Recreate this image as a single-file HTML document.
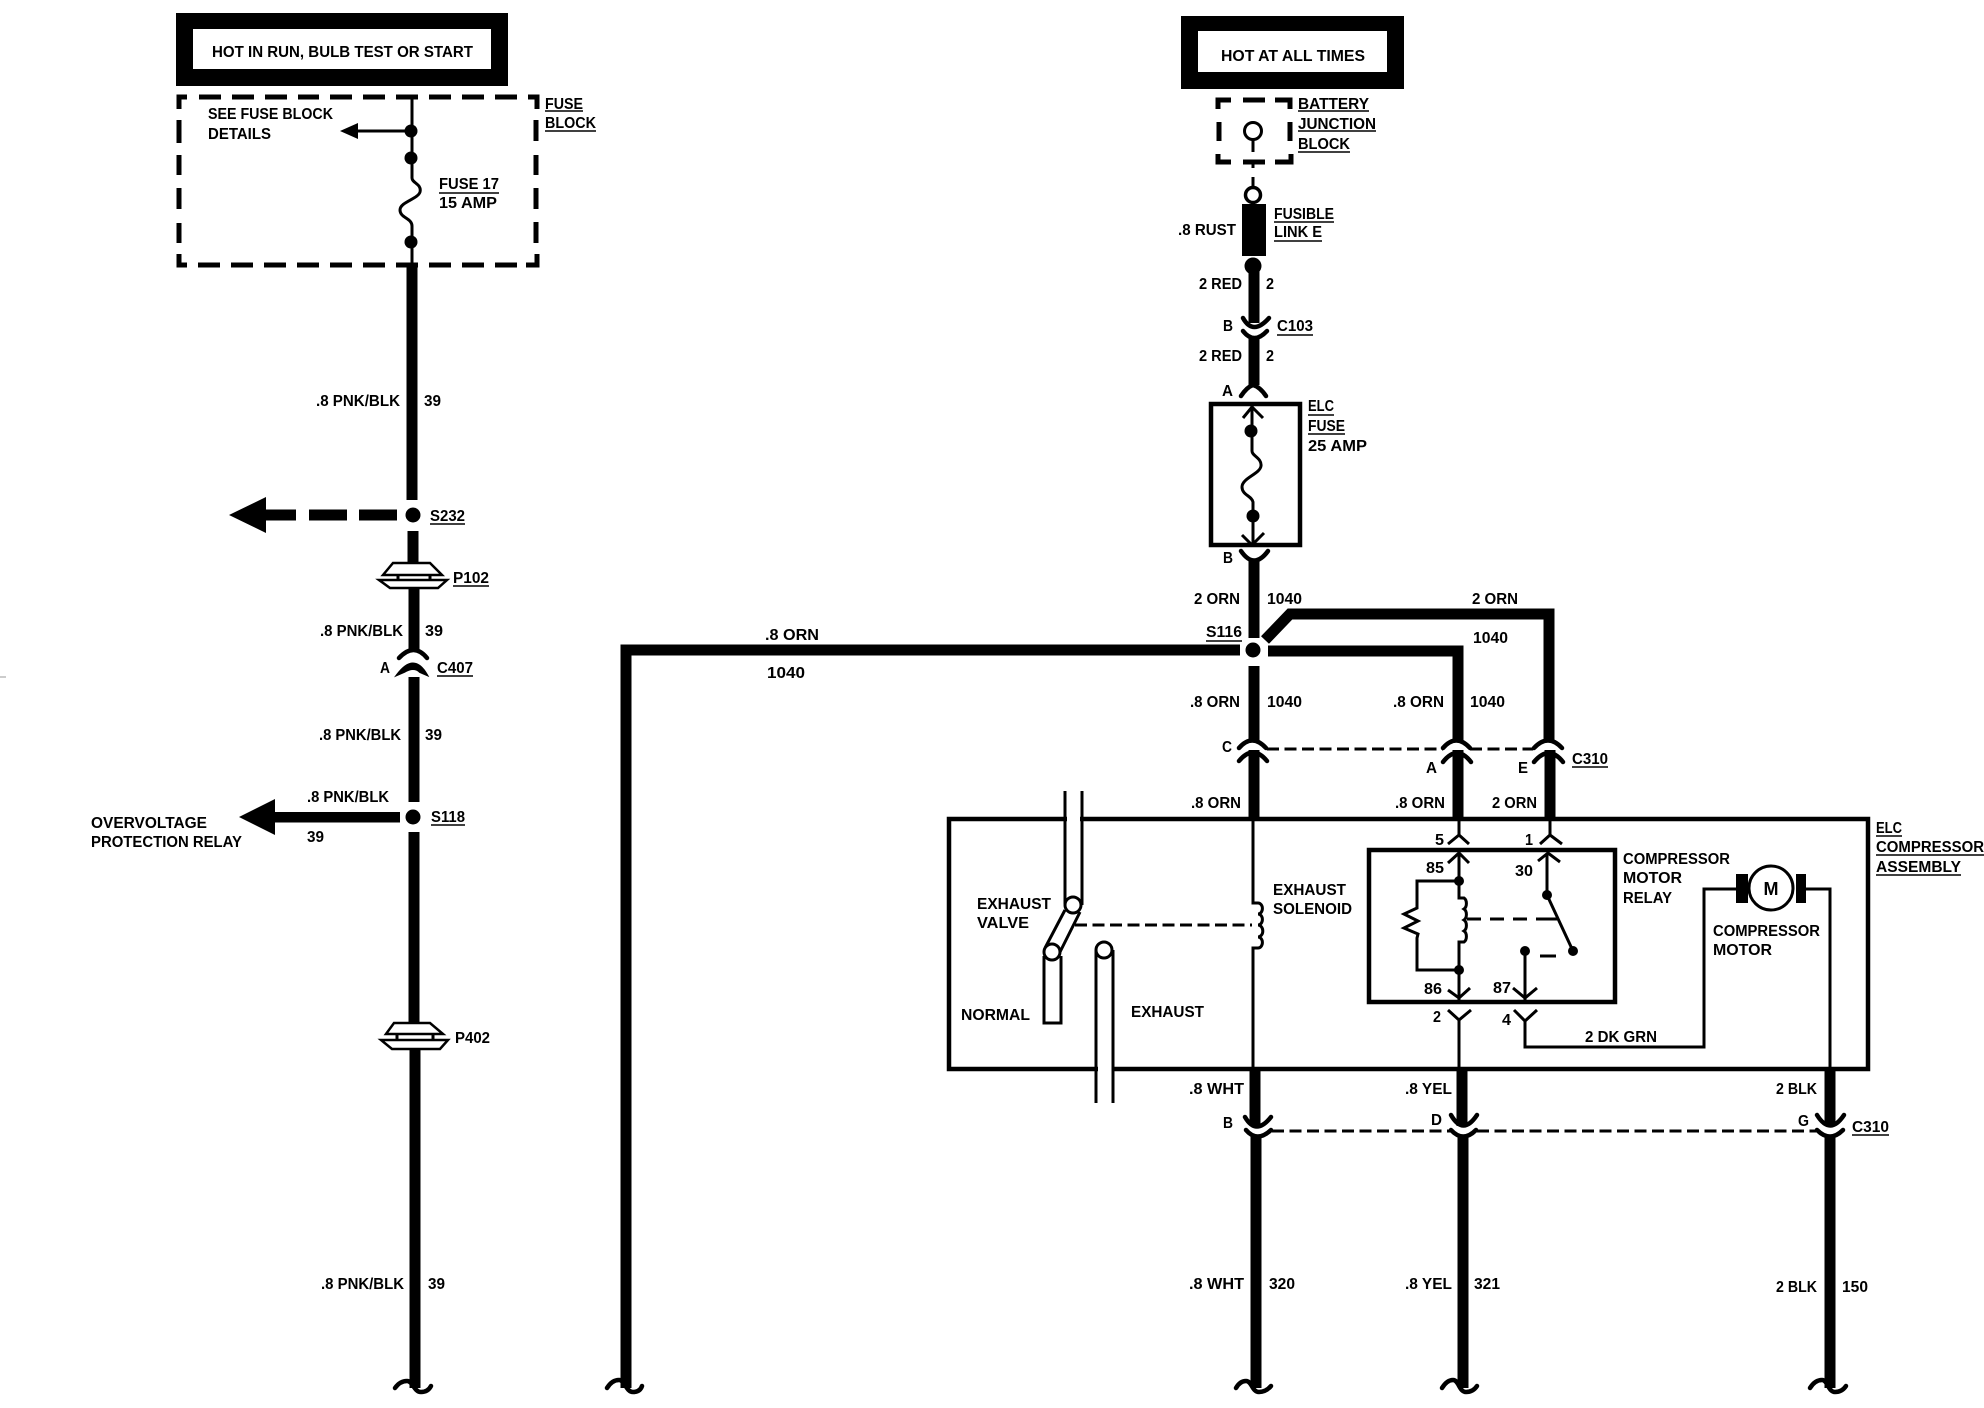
<!DOCTYPE html>
<html><head><meta charset="utf-8"><title>Wiring diagram</title>
<style>
html,body{margin:0;padding:0;background:#fff;width:1984px;height:1408px;overflow:hidden}
svg{display:block}
text{font-family:"Liberation Sans",sans-serif;font-weight:bold;font-size:15.5px;fill:#000}
.w{fill:none;stroke:#000;stroke-width:11}
.t{fill:none;stroke:#000;stroke-width:3}
.c{fill:none;stroke:#000;stroke-width:4.5;stroke-linecap:round}
.u{fill:none;stroke:#000;stroke-width:1.6}
.d{fill:none;stroke:#000;stroke-width:3;stroke-dasharray:12 5.5}
.b{fill:none;stroke:#000;stroke-width:5}
</style></head><body>
<svg width="1984" height="1408" viewBox="0 0 1984 1408" xmlns="http://www.w3.org/2000/svg">
<rect width="1984" height="1408" fill="#fff"/>
<path d="M0 677H6" stroke="#999" stroke-width="1"/>

<!-- LEFT HEADER -->
<rect x="176" y="13" width="332" height="73" fill="#000"/>
<rect x="193" y="29" width="298" height="40" fill="#fff"/>
<text x="212" y="57" textLength="261" lengthAdjust="spacingAndGlyphs">HOT IN RUN, BULB TEST OR START</text>

<!-- FUSE BLOCK dashed box -->
<path class="b" d="M179 109V97H187M199 97H221M232 97H254M265 97H287M298 97H319M330 97H352M363 97H385M396 97H418M429 97H451M462 97H484M495 97H517M528 97H537V109M179 120V143M179 155V175M179 188V209M179 223V243M179 254V265H187M198 265H220M231 265H253M264 265H286M297 265H319M330 265H352M363 265H385M396 265H418M429 265H451M462 265H484M495 265H517M526 265H537V254M536 120V141M536 155V175M536 188V209M536 222V243"/>
<path class="t" d="M412 97V178C412 183 422 184 420 192C418 199 400 202 400 210C400 218 412 218 412 226V265"/>
<circle cx="411" cy="131" r="6.5"/><circle cx="411" cy="158" r="6.5"/><circle cx="411" cy="242" r="6.5"/>
<path class="t" d="M358 131H411"/>
<path d="M340 131L358 123V139Z"/>
<text x="208" y="119" textLength="125" lengthAdjust="spacingAndGlyphs">SEE FUSE BLOCK</text>
<text x="208" y="139" textLength="63" lengthAdjust="spacingAndGlyphs">DETAILS</text>
<text x="439" y="189" textLength="60" lengthAdjust="spacingAndGlyphs">FUSE 17</text>
<path class="u" d="M439 193H499"/>
<text x="439" y="208" textLength="58" lengthAdjust="spacingAndGlyphs">15 AMP</text>
<text x="545" y="109" textLength="38" lengthAdjust="spacingAndGlyphs">FUSE</text>
<path class="u" d="M545 111H583"/>
<text x="545" y="128" textLength="51" lengthAdjust="spacingAndGlyphs">BLOCK</text>
<path class="u" d="M545 131H596"/>

<!-- LEFT WIRE -->
<path class="w" d="M412 265V500M413 531V563M414 588V652M414 677V802M414 832V1023M415 1050V1388"/>
<circle cx="413" cy="515" r="7.5"/><circle cx="413" cy="817" r="7.5"/>
<path d="M229 515L266 497V533Z"/>
<rect x="266" y="509.500" width="30" height="11"/>
<rect x="309" y="509.500" width="38" height="11"/>
<rect x="359" y="509.500" width="38" height="11"/>
<path d="M239 817L275 799V835Z"/>
<rect x="275" y="812" width="125" height="10.500"/>

<!-- P102 -->
<path d="M393 563H430L442 575H383Z" fill="#fff" stroke="#000" stroke-width="2.5"/>
<path d="M379 580H447L438 588H390Z" fill="#fff" stroke="#000" stroke-width="2.5"/>
<path class="t" d="M398 575V580M430 575V580"/>
<!-- P402 -->
<path d="M394 1023H430L443 1034H386Z" fill="#fff" stroke="#000" stroke-width="2.5"/>
<path d="M381 1040H448L440 1049H392Z" fill="#fff" stroke="#000" stroke-width="2.5"/>
<path class="t" d="M397 1034V1040M433 1034V1040"/>
<!-- C407 -->
<path class="c" d="M399 658Q414 642 427 658"/>
<path d="M397 675Q414 652 427 675L420 672Q414 666 404 672Z" stroke="#000" stroke-width="2"/>
<!-- bottom squiggles -->
<path class="c" d="M395 1388Q400 1381 407 1381C413 1381 414 1392 421 1392Q428 1392 431 1386"/>
<path class="c" d="M607 1388Q612 1380 619 1380C625 1380 626 1392 633 1392Q640 1392 642 1386"/>

<text x="316" y="406" textLength="84" lengthAdjust="spacingAndGlyphs">.8 PNK/BLK</text>
<text x="424" y="406" textLength="17" lengthAdjust="spacingAndGlyphs">39</text>
<text x="430" y="521" textLength="35" lengthAdjust="spacingAndGlyphs">S232</text>
<path class="u" d="M430 524H465"/>
<text x="453" y="583" textLength="36" lengthAdjust="spacingAndGlyphs">P102</text>
<path class="u" d="M453 586H489"/>
<text x="320" y="636" textLength="83" lengthAdjust="spacingAndGlyphs">.8 PNK/BLK</text>
<text x="425" y="636" textLength="18" lengthAdjust="spacingAndGlyphs">39</text>
<text x="380" y="673" textLength="10" lengthAdjust="spacingAndGlyphs">A</text>
<text x="437" y="673" textLength="36" lengthAdjust="spacingAndGlyphs">C407</text>
<path class="u" d="M437 676H473"/>
<text x="319" y="740" textLength="82" lengthAdjust="spacingAndGlyphs">.8 PNK/BLK</text>
<text x="425" y="740" textLength="17" lengthAdjust="spacingAndGlyphs">39</text>
<text x="307" y="802" textLength="82" lengthAdjust="spacingAndGlyphs">.8 PNK/BLK</text>
<text x="431" y="822" textLength="34" lengthAdjust="spacingAndGlyphs">S118</text>
<path class="u" d="M431 825H465"/>
<text x="307" y="842" textLength="17" lengthAdjust="spacingAndGlyphs">39</text>
<text x="91" y="828" textLength="116" lengthAdjust="spacingAndGlyphs">OVERVOLTAGE</text>
<text x="91" y="847" textLength="151" lengthAdjust="spacingAndGlyphs">PROTECTION RELAY</text>
<text x="455" y="1043" textLength="35" lengthAdjust="spacingAndGlyphs">P402</text>
<text x="321" y="1289" textLength="83" lengthAdjust="spacingAndGlyphs">.8 PNK/BLK</text>
<text x="428" y="1289" textLength="17" lengthAdjust="spacingAndGlyphs">39</text>

<!-- LONG LEFT ORN WIRE -->
<path class="w" d="M1240 650H626V1388"/>
<text x="765" y="640" textLength="54" lengthAdjust="spacingAndGlyphs">.8 ORN</text>
<text x="767" y="678" textLength="38" lengthAdjust="spacingAndGlyphs">1040</text>

<!-- RIGHT HEADER -->
<rect x="1181" y="16" width="223" height="73" fill="#000"/>
<rect x="1198" y="31" width="189" height="41" fill="#fff"/>
<text x="1221" y="61" textLength="144" lengthAdjust="spacingAndGlyphs">HOT AT ALL TIMES</text>

<!-- BATTERY JUNCTION BLOCK -->
<path class="b" d="M1218 109V100H1231M1243 100H1265M1275 100H1290V109M1219 122V141M1290 122V141M1218 154V162H1231M1243 162H1265M1275 162H1291V154"/>
<circle cx="1253" cy="131" r="8.500" fill="#fff" stroke="#000" stroke-width="3"/>
<path class="t" d="M1253 139V152M1253 162V168M1253 177V188"/>
<circle cx="1253" cy="195" r="7.500" fill="#fff" stroke="#000" stroke-width="3.500"/>
<rect x="1242" y="204" width="24" height="52"/>
<circle cx="1253" cy="266" r="8.500"/>
<path class="w" d="M1254 267V323M1254 336V385"/>
<path class="c" d="M1243 318Q1253 336 1269 318" stroke-width="5"/>
<path class="c" d="M1243 331Q1254 345 1267 331"/>
<path class="c" d="M1241 396Q1247 387 1253 385Q1260 387 1266 396"/>

<text x="1298" y="109" textLength="71" lengthAdjust="spacingAndGlyphs">BATTERY</text>
<path class="u" d="M1298 111H1369"/>
<text x="1298" y="129" textLength="78" lengthAdjust="spacingAndGlyphs">JUNCTION</text>
<path class="u" d="M1298 131H1376"/>
<text x="1298" y="149" textLength="52" lengthAdjust="spacingAndGlyphs">BLOCK</text>
<path class="u" d="M1298 152H1350"/>
<text x="1274" y="219" textLength="60" lengthAdjust="spacingAndGlyphs">FUSIBLE</text>
<path class="u" d="M1274 222H1334"/>
<text x="1274" y="237" textLength="48" lengthAdjust="spacingAndGlyphs">LINK E</text>
<path class="u" d="M1274 241H1322"/>
<text x="1178" y="235" textLength="58" lengthAdjust="spacingAndGlyphs">.8 RUST</text>
<text x="1199" y="289" textLength="43" lengthAdjust="spacingAndGlyphs">2 RED</text>
<text x="1266" y="289" textLength="8" lengthAdjust="spacingAndGlyphs">2</text>
<text x="1223" y="331" textLength="10" lengthAdjust="spacingAndGlyphs">B</text>
<text x="1277" y="331" textLength="36" lengthAdjust="spacingAndGlyphs">C103</text>
<path class="u" d="M1277 335H1313"/>
<text x="1199" y="361" textLength="43" lengthAdjust="spacingAndGlyphs">2 RED</text>
<text x="1266" y="361" textLength="8" lengthAdjust="spacingAndGlyphs">2</text>
<text x="1222" y="396" textLength="11" lengthAdjust="spacingAndGlyphs">A</text>

<!-- ELC FUSE -->
<rect x="1211" y="404" width="89" height="141" fill="none" stroke="#000" stroke-width="4.500"/>
<path class="t" d="M1243 418L1252 407L1263 418M1252 406V431"/>
<path class="t" d="M1252 431V451C1252 456 1262 458 1261 466C1260 474 1242 478 1242 487C1242 495 1252 496 1253 502V545"/>
<circle cx="1251" cy="431" r="6.500"/><circle cx="1253" cy="516" r="6.500"/>
<path class="t" d="M1242 535L1252 545L1264 533"/>
<path class="c" d="M1241 551Q1254 570 1268 551"/>
<text x="1308" y="411" textLength="26" lengthAdjust="spacingAndGlyphs">ELC</text>
<path class="u" d="M1308 415H1334"/>
<text x="1308" y="431" textLength="37" lengthAdjust="spacingAndGlyphs">FUSE</text>
<path class="u" d="M1308 434H1345"/>
<text x="1308" y="451" textLength="59" lengthAdjust="spacingAndGlyphs">25 AMP</text>
<text x="1223" y="563" textLength="10" lengthAdjust="spacingAndGlyphs">B</text>

<!-- S116 junction -->
<path class="w" d="M1254 560V638"/>
<path class="w" d="M1265 640L1290 614H1549V740"/>
<path class="w" d="M1268 651H1458V740"/>
<path class="w" d="M1254 666V742"/>
<circle cx="1253" cy="650" r="7.500"/>
<text x="1194" y="604" textLength="46" lengthAdjust="spacingAndGlyphs">2 ORN</text>
<text x="1267" y="604" textLength="35" lengthAdjust="spacingAndGlyphs">1040</text>
<text x="1472" y="604" textLength="46" lengthAdjust="spacingAndGlyphs">2 ORN</text>
<text x="1473" y="643" textLength="35" lengthAdjust="spacingAndGlyphs">1040</text>
<text x="1206" y="637" textLength="36" lengthAdjust="spacingAndGlyphs">S116</text>
<path class="u" d="M1206 641H1242"/>
<text x="1190" y="707" textLength="50" lengthAdjust="spacingAndGlyphs">.8 ORN</text>
<text x="1267" y="707" textLength="35" lengthAdjust="spacingAndGlyphs">1040</text>
<text x="1393" y="707" textLength="51" lengthAdjust="spacingAndGlyphs">.8 ORN</text>
<text x="1470" y="707" textLength="35" lengthAdjust="spacingAndGlyphs">1040</text>

<!-- C310 upper -->
<path class="w" d="M1254 750V819M1458 750V819M1550 750V819"/>
<path class="c" d="M1239 748Q1252 733 1266 748M1239 761Q1253 744 1267 761"/>
<path class="c" d="M1443 748Q1456 733 1470 748M1443 762Q1457 744 1471 762"/>
<path class="c" d="M1534 748Q1548 733 1562 748M1534 762Q1549 744 1563 762"/>
<path class="d" d="M1267 749H1443M1470 749H1533"/>
<text x="1222" y="752" textLength="10" lengthAdjust="spacingAndGlyphs">C</text>
<text x="1426" y="773" textLength="11" lengthAdjust="spacingAndGlyphs">A</text>
<text x="1518" y="773" textLength="10" lengthAdjust="spacingAndGlyphs">E</text>
<text x="1572" y="764" textLength="36" lengthAdjust="spacingAndGlyphs">C310</text>
<path class="u" d="M1572 767H1608"/>
<text x="1191" y="808" textLength="50" lengthAdjust="spacingAndGlyphs">.8 ORN</text>
<text x="1395" y="808" textLength="50" lengthAdjust="spacingAndGlyphs">.8 ORN</text>
<text x="1492" y="808" textLength="45" lengthAdjust="spacingAndGlyphs">2 ORN</text>

<!-- ASSEMBLY BOX -->
<rect x="949" y="819" width="919" height="250" fill="none" stroke="#000" stroke-width="4.500"/>
<rect x="1067" y="815" width="13" height="9" fill="#fff"/>
<rect x="1098" y="1064" width="14" height="9" fill="#fff"/>

<!-- valve -->
<path class="t" d="M1065 791V904M1082 791V905M1065 910L1045 948M1080 912L1060 952"/>
<circle cx="1073" cy="905" r="8" fill="#fff" stroke="#000" stroke-width="3"/>
<circle cx="1052" cy="952" r="8" fill="#fff" stroke="#000" stroke-width="3"/>
<path class="t" d="M1044 956V1023H1061V956"/>
<circle cx="1104" cy="950" r="8" fill="#fff" stroke="#000" stroke-width="3"/>
<path class="t" d="M1096 950V1103M1113 950V1103"/>
<path class="d" d="M1075 925H1252"/>
<path class="t" d="M1253 819V903H1258A4 5 0 0 1 1258 914A4 5 0 0 1 1258 925A4 5 0 0 1 1258 937A4 5 0 0 1 1258 948H1253V1069"/>
<text x="977" y="909" textLength="74" lengthAdjust="spacingAndGlyphs">EXHAUST</text>
<text x="977" y="928" textLength="52" lengthAdjust="spacingAndGlyphs">VALVE</text>
<text x="961" y="1020" textLength="69" lengthAdjust="spacingAndGlyphs">NORMAL</text>
<text x="1131" y="1017" textLength="73" lengthAdjust="spacingAndGlyphs">EXHAUST</text>
<text x="1273" y="895" textLength="73" lengthAdjust="spacingAndGlyphs">EXHAUST</text>
<text x="1273" y="914" textLength="79" lengthAdjust="spacingAndGlyphs">SOLENOID</text>

<!-- relay pins -->
<path class="t" d="M1459 819V835M1448 844L1459 835L1469 844M1550 819V835M1540 844L1550 835L1562 844"/>
<text x="1435" y="845" textLength="9" lengthAdjust="spacingAndGlyphs">5</text>
<text x="1525" y="845" textLength="8" lengthAdjust="spacingAndGlyphs">1</text>
<rect x="1369" y="850" width="246" height="152" fill="none" stroke="#000" stroke-width="4.500"/>
<path class="t" d="M1448 863L1459 853L1469 863M1459 853V898H1464A4 6 0 0 1 1464 909A4 6 0 0 1 1464 920A4 6 0 0 1 1464 931A4 6 0 0 1 1464 942H1459V1002M1448 990L1459 998L1470 988"/>
<path class="t" d="M1459 881H1417V908L1404 914L1418 921L1404 928L1418 934L1417 938V970H1459"/>
<circle cx="1459" cy="881" r="5"/><circle cx="1459" cy="970" r="5"/>
<path class="t" d="M1538 861L1548 853L1560 862M1547 853V895L1573 951"/>
<circle cx="1547" cy="895" r="5"/><circle cx="1573" cy="951" r="5"/><circle cx="1525" cy="951" r="5"/>
<path class="t" d="M1467 919H1481M1490 919H1504M1513 919H1527M1536 919H1557"/>
<path class="t" d="M1525 951V1002M1513 988L1525 998L1537 988M1540 956H1556"/>
<text x="1426" y="873" textLength="18" lengthAdjust="spacingAndGlyphs">85</text>
<text x="1515" y="876" textLength="18" lengthAdjust="spacingAndGlyphs">30</text>
<text x="1424" y="994" textLength="18" lengthAdjust="spacingAndGlyphs">86</text>
<text x="1493" y="993" textLength="18" lengthAdjust="spacingAndGlyphs">87</text>
<text x="1623" y="864" textLength="107" lengthAdjust="spacingAndGlyphs">COMPRESSOR</text>
<text x="1623" y="883" textLength="59" lengthAdjust="spacingAndGlyphs">MOTOR</text>
<text x="1623" y="903" textLength="49" lengthAdjust="spacingAndGlyphs">RELAY</text>
<!-- lower pins -->
<path class="t" d="M1448 1010L1459 1020L1471 1010M1459 1020V1069M1514 1010L1525 1021L1537 1010M1525 1021V1047H1704V889H1736"/>
<text x="1433" y="1022" textLength="8" lengthAdjust="spacingAndGlyphs">2</text>
<text x="1502" y="1025" textLength="9" lengthAdjust="spacingAndGlyphs">4</text>
<text x="1585" y="1042" textLength="72" lengthAdjust="spacingAndGlyphs">2 DK GRN</text>
<!-- motor -->
<rect x="1736" y="874" width="12" height="29"/>
<rect x="1796" y="874" width="10" height="29"/>
<circle cx="1771" cy="888" r="22" fill="#fff" stroke="#000" stroke-width="3"/>
<text x="1771" y="895" text-anchor="middle" style="font-size:18px">M</text>
<path class="t" d="M1806 889H1830V1069"/>
<text x="1713" y="936" textLength="107" lengthAdjust="spacingAndGlyphs">COMPRESSOR</text>
<text x="1713" y="955" textLength="59" lengthAdjust="spacingAndGlyphs">MOTOR</text>
<text x="1876" y="833" textLength="26" lengthAdjust="spacingAndGlyphs">ELC</text>
<path class="u" d="M1876 836H1902"/>
<text x="1876" y="852" textLength="108" lengthAdjust="spacingAndGlyphs">COMPRESSOR</text>
<path class="u" d="M1876 855H1984"/>
<text x="1876" y="872" textLength="85" lengthAdjust="spacingAndGlyphs">ASSEMBLY</text>
<path class="u" d="M1876 875H1961"/>

<!-- lower wires -->
<path class="w" d="M1255 1069V1126M1462 1069V1126M1830 1069V1126"/>
<path class="w" d="M1256 1137V1388M1463 1137V1388M1830 1137V1388"/>
<path class="c" d="M1245 1117Q1256 1136 1271 1117" stroke-width="5"/>
<path class="c" d="M1246 1130Q1257 1143 1271 1130"/>
<path class="c" d="M1451 1115Q1463 1136 1477 1115" stroke-width="5"/>
<path class="c" d="M1451 1130Q1463 1143 1476 1130"/>
<path class="c" d="M1817 1115Q1830 1136 1844 1115" stroke-width="5"/>
<path class="c" d="M1817 1130Q1830 1143 1843 1130"/>
<path class="d" d="M1272 1131H1451M1477 1131H1816"/>
<path class="c" d="M1236 1388Q1240 1381 1246 1381C1252 1381 1252 1392 1259 1392Q1266 1392 1271 1386"/>
<path class="c" d="M1442 1388Q1447 1380 1453 1380C1459 1380 1459 1392 1466 1392Q1473 1392 1477 1386"/>
<path class="c" d="M1810 1388Q1815 1380 1822 1380C1828 1380 1828 1392 1835 1392Q1842 1392 1846 1386"/>

<text x="1189" y="1094" textLength="55" lengthAdjust="spacingAndGlyphs">.8 WHT</text>
<text x="1405" y="1094" textLength="47" lengthAdjust="spacingAndGlyphs">.8 YEL</text>
<text x="1776" y="1094" textLength="41" lengthAdjust="spacingAndGlyphs">2 BLK</text>
<text x="1223" y="1128" textLength="10" lengthAdjust="spacingAndGlyphs">B</text>
<text x="1431" y="1125" textLength="11" lengthAdjust="spacingAndGlyphs">D</text>
<text x="1798" y="1126" textLength="11" lengthAdjust="spacingAndGlyphs">G</text>
<text x="1852" y="1132" textLength="37" lengthAdjust="spacingAndGlyphs">C310</text>
<path class="u" d="M1852 1135H1889"/>
<text x="1189" y="1289" textLength="55" lengthAdjust="spacingAndGlyphs">.8 WHT</text>
<text x="1269" y="1289" textLength="26" lengthAdjust="spacingAndGlyphs">320</text>
<text x="1405" y="1289" textLength="47" lengthAdjust="spacingAndGlyphs">.8 YEL</text>
<text x="1474" y="1289" textLength="26" lengthAdjust="spacingAndGlyphs">321</text>
<text x="1776" y="1292" textLength="41" lengthAdjust="spacingAndGlyphs">2 BLK</text>
<text x="1842" y="1292" textLength="26" lengthAdjust="spacingAndGlyphs">150</text>
</svg>
</body></html>
